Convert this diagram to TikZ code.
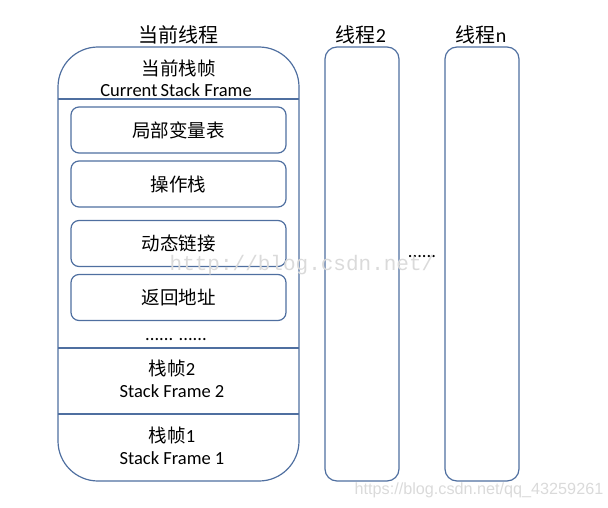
\documentclass[tikz,border=0pt]{standalone}
\usepackage{fontspec}
\setmainfont{Carlito}
\newfontfamily\cjk{Noto Sans CJK SC}
\newfontfamily\wmsans{Liberation Sans}
\newfontfamily\wmmono{Liberation Mono}
\definecolor{edge}{RGB}{79,111,160}
\definecolor{wm}{RGB}{218,218,218}
\tikzset{
  outerbox/.style={draw=edge, line width=1.2pt, inner sep=0pt},
  framebox/.style={draw=edge, line width=1.2pt, rounded corners=8pt, minimum width=215pt, minimum height=46pt, inner sep=0pt, font=\cjk\fontsize{18.5}{20}\selectfont},
  divider/.style={draw=edge, line width=1.1pt},
  cn/.style={font=\cjk\fontsize{18.5}{20}\selectfont, inner sep=0pt},
  en/.style={font=\fontsize{18.5}{20}\selectfont, inner sep=0pt},
  title/.style={font=\cjk\fontsize{20}{22}\selectfont, inner sep=0pt},
  watermark/.style={text=wm, inner sep=0pt}
}
\begin{document}
\begin{tikzpicture}[x=1pt,y=-1pt]
\useasboundingbox (0,0) rectangle (608,508);
% outer boxes
\node[outerbox, rounded corners=40pt, minimum width=241pt, minimum height=434pt] (main) at (178.5,264) {};
\node[outerbox, rounded corners=12pt, minimum width=74pt, minimum height=434pt] (t2) at (362,264) {};
\node[outerbox, rounded corners=12pt, minimum width=74pt, minimum height=434pt] (tn) at (482,264) {};
% titles
\node[title] (tmain) at (178.5,35) {当前线程};
\node[title] (tt2) at (361,35) {线程{\rmfamily\fontsize{20}{22}\selectfont 2}};
\node[title] (ttn) at (481,35) {线程{\rmfamily\fontsize{20}{22}\selectfont n}};
% header
\node[cn] (cur) at (178.5,68) {当前栈帧};
\node[en] (curen) at (176,90) {Current\,Stack Frame};
\coordinate (d1l) at (58,99);
\coordinate (d1r) at (299,99);
\draw[divider] (d1l) -- (d1r);
% inner frames
\node[framebox] (b1) at (178.5,130) {局部变量表};
\node[framebox] (b2) at (178.5,184) {操作栈};
\node[framebox] (b3) at (178.5,243.5) {动态链接};
\node[framebox] (b4) at (178.5,297.5) {返回地址};
\node[en] (dots) at (176,340) {...... ......};
\coordinate (d2l) at (58,348);
\coordinate (d2r) at (299,348);
\draw[divider] (d2l) -- (d2r);
\node[cn] (f2) at (172,368) {栈帧{\rmfamily 2}};
\node[en] (f2en) at (172,391) {Stack Frame 2};
\coordinate (d3l) at (58,414);
\coordinate (d3r) at (299,414);
\draw[divider] (d3l) -- (d3r);
\node[cn] (f1) at (172,435) {栈帧{\rmfamily 1}};
\node[en] (f1en) at (172,458) {Stack Frame 1};
% dots between threads
\node[en] (mid) at (422,257) {......};
% watermarks
\node[watermark, font=\wmmono\fontsize{21}{23}\selectfont] (wm1) at (302,265) {http://blog.csdn.net/};
\node[watermark, font=\wmsans\fontsize{16.2}{18}\selectfont] (wm2) at (479,490) {https://blog.csdn.net/qq\_43259261};
\end{tikzpicture}
\end{document}
